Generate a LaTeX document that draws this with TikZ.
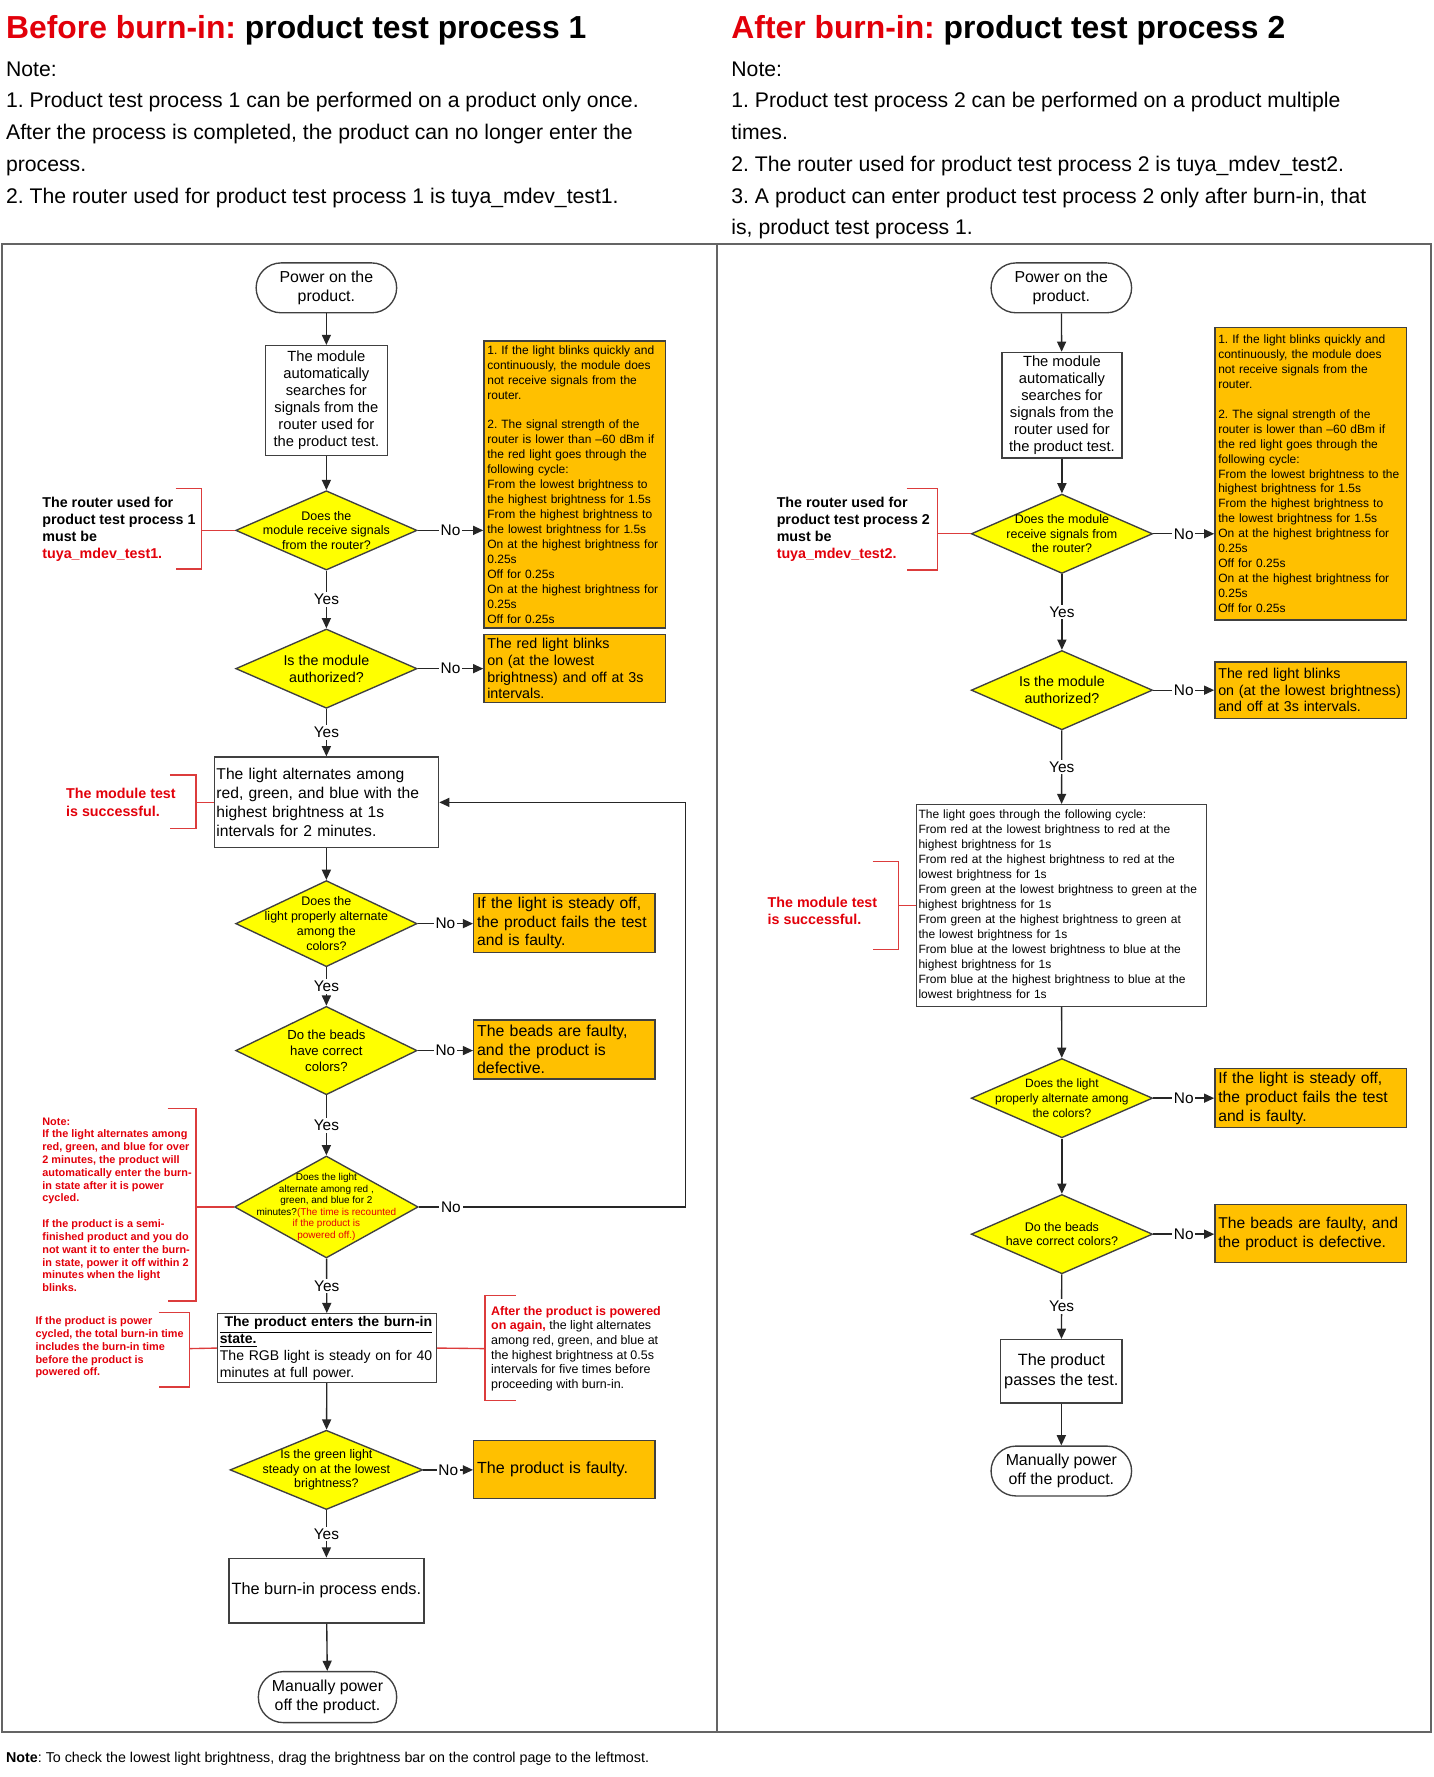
\documentclass[tikz,border=0pt]{standalone}
\usepackage{fontspec}
\setmainfont{Liberation Sans}
\usepackage{xcolor}
\usetikzlibrary{shapes.geometric,arrows.meta}
\definecolor{tyorange}{RGB}{255,192,0}
\definecolor{tyyellow}{RGB}{255,255,0}
\definecolor{tyred}{RGB}{226,0,10}
\definecolor{brkred}{RGB}{220,60,60}
\definecolor{frmgray}{RGB}{100,100,100}
\newcommand{\tysize}[2]{\fontsize{#1}{#2}\selectfont}
\frenchspacing

\begin{document}
\begin{tikzpicture}[x=0.5pt,y=0.5pt,yscale=-1,
  term/.style={draw=black!75, line width=0.6pt, rounded corners=11pt, minimum width=62pt, minimum height=22pt, align=center, inner sep=1pt, font=\tysize{7}{8.5}},
  proc/.style={draw=black!75, line width=0.6pt, fill=white, align=center, inner sep=1pt, font=\tysize{6.5}{7.5}},
  dec/.style={diamond, draw=black!75, line width=0.6pt, fill=tyyellow, inner sep=0pt, minimum width=80pt, minimum height=35pt},
  dectxt/.style={align=center, inner sep=0pt, font=\tysize{5.5}{6.5}},
  warn/.style={draw=black!75, line width=0.6pt, fill=tyorange, align=left, inner sep=1.5pt, font=\tysize{5.3}{6.6}},
  lbl/.style={fill=white, inner sep=0.8pt, font=\tysize{6.8}{8}},
  arr/.style={draw=black!85, line width=0.6pt, -{Triangle[length=4.5pt,width=4pt]}},
  brk/.style={draw=brkred, line width=0.6pt},
  note/.style={align=left, inner sep=0pt, anchor=north west},
  redtxt/.style={anchor=west, align=left, inner sep=0pt, text=tyred, font=\bfseries\tysize{4.8}{5.65}}
]
\useasboundingbox (0,0) rectangle (1265,1568);

\draw (5,34) node (ttl1) [anchor=base west, inner sep=0pt, font=\bfseries\tysize{14.05}{16}] {\textcolor{tyred}{Before burn-in:} product test process 1};
\draw (645,34) node (ttl2) [anchor=base west, inner sep=0pt, font=\bfseries\tysize{14.05}{16}] {\textcolor{tyred}{After burn-in:} product test process 2};
\draw (5,54) node (hnote1) [note, font=\tysize{9.35}{14}] {Note:\\1. Product test process 1 can be performed on a product only once.\\After the process is completed, the product can no longer enter the\\process.\\2. The router used for product test process 1 is tuya\_mdev\_test1.};
\draw (645,54) node (hnote2) [note, font=\tysize{9.35}{14}] {Note:\\1. Product test process 2 can be performed on a product multiple\\times.\\2. The router used for product test process 2 is tuya\_mdev\_test2.\\3. A product can enter product test process 2 only after burn-in, that\\is, product test process 1.};

\draw [frmgray, line width=0.8pt] (2,215) rectangle (1263,1528);
\draw [frmgray, line width=0.8pt] (633,215) -- (633,1528);

\draw (288,254) node (pon1) [term] {Power on the\\product.};
\draw (288,353.5) node (srch1) [proc, minimum width=54pt, minimum height=48.5pt] {The module\\automatically\\searches for\\signals from the\\router used for\\the product test.};
\draw (288,468) node (dRecv1) [dec] {};
\draw (dRecv1) node (tRecv1) [dectxt] {Does the\\module receive signals\\from the router?};
\draw (507,427.5) node (nSig1) [warn, text width=77pt, minimum height=126.5pt] {1. If the light blinks quickly and\\continuously, the module does\\not receive signals from the\\router.\\[6.6pt]2. The signal strength of the\\router is lower than –60 dBm if\\the red light goes through the\\following cycle:\\From the lowest brightness to\\the highest brightness for 1.5s\\From the highest brightness to\\the lowest brightness for 1.5s\\On at the highest brightness for\\0.25s\\Off for 0.25s\\On at the highest brightness for\\0.25s\\Off for 0.25s};
\draw (288,590) node (dAuth1) [dec] {};
\draw (dAuth1) node (tAuth1) [dectxt, font=\tysize{6.3}{7.5}] {Is the module\\authorized?};
\draw (507,590) node (nAuth1) [warn, text width=77pt, minimum height=30pt, font=\tysize{6.3}{7.3}] {The red light blinks\\on (at the lowest\\brightness) and off at 3s\\intervals.};
\draw (288,708) node (rgb1) [proc, align=left, text width=97pt, minimum height=40pt, font=\tysize{6.9}{8.5}] {The light alternates among\\red, green, and blue with the\\highest brightness at 1s\\intervals for 2 minutes.};
\draw (288,815) node (dAlt1) [dec, minimum height=38pt] {};
\draw (dAlt1) node (tAlt1) [dectxt] {Does the\\light properly alternate\\among the\\colors?};
\draw (498,814.5) node (nAlt1) [warn, text width=77pt, minimum height=25.5pt, font=\tysize{6.9}{8.3}] {If the light is steady off,\\the product fails the test\\and is faulty.};
\draw (288,927) node (dBead1) [dec, minimum height=39pt] {};
\draw (dBead1) node (tBead1) [dectxt, font=\tysize{5.8}{7}] {Do the beads\\have correct\\colors?};
\draw (498,926) node (nBead1) [warn, text width=77pt, minimum height=26pt, font=\tysize{7}{8.3}] {The beads are faulty,\\and the product is\\defective.};
\draw (288,1065) node (dTime1) [dec, minimum width=81pt, minimum height=45pt] {};
\draw (dTime1) node (tTime1) [dectxt, font=\tysize{4.4}{5.1}] {Does the light\\alternate among red ,\\green, and blue for 2\\minutes?\textcolor{tyred}{(The time is recounted}\\\textcolor{tyred}{if the product is}\\\textcolor{tyred}{powered off.)}};
\draw (288.5,1189.5) node (burn) [proc, align=left, text width=94.5pt, minimum height=29.5pt, font=\tysize{6.2}{7.5}] {\textbf{\underline{\ The product enters the burn-in}}\\\textbf{\underline{state.}}\\The RGB light is steady on for 40\\minutes at full power.};
\draw (288,1297) node (dGreen1) [dec, minimum width=85pt] {};
\draw (dGreen1) node (tGreen1) [dectxt] {Is the green light\\steady on at the lowest\\brightness?};
\draw (498,1296.5) node (nGreen1) [warn, text width=77pt, minimum height=25.5pt, font=\tysize{7.1}{8.3}] {The product is faulty.};
\draw (288,1403.5) node (end1) [proc, minimum width=86pt, minimum height=28.5pt, font=\tysize{7.2}{8.5}] {The burn-in process ends.};
\draw (289,1497.5) node (poff1) [term, minimum width=61pt, minimum height=22.5pt] {Manually power\\off the product.};

\draw [arr] (pon1) -- (srch1);
\draw [arr] (srch1) -- (dRecv1);
\draw [arr] (dRecv1) -- node [lbl] {Yes} (dAuth1);
\draw [arr] (dAuth1) -- node [lbl] {Yes} (rgb1);
\draw [arr] (rgb1) -- (dAlt1);
\draw [arr] (dAlt1) -- node [lbl] {Yes} (dBead1);
\draw [arr] (dBead1) -- node [lbl] {Yes} (dTime1);
\draw [arr] (dTime1) -- node [lbl] {Yes} (burn);
\draw [arr] (burn) -- (dGreen1);
\draw [arr] (dGreen1) -- node [lbl] {Yes} (end1);
\draw [arr] (end1) -- (poff1);
\draw [arr] (dRecv1.east) -- node [lbl] {No} (dRecv1.east -| nSig1.west);
\draw [arr] (dAuth1.east) -- node [lbl] {No} (dAuth1.east -| nAuth1.west);
\draw [arr] (dAlt1.east) -- node [lbl] {No} (dAlt1.east -| nAlt1.west);
\draw [arr] (dBead1.east) -- node [lbl] {No} (dBead1.east -| nBead1.west);
\draw [arr] (dGreen1.east) -- node [lbl] {No} (dGreen1.east -| nGreen1.west);
\coordinate (loopR) at (605,1065);
\draw [arr] (dTime1.east) -- node [lbl, pos=0.12] {No} (loopR) |- (rgb1.east);

\draw (37,467) node (ann1) [anchor=west, align=left, inner sep=0pt, font=\bfseries\tysize{6.3}{7.6}] {The router used for\\product test process 1\\must be\\\textcolor{tyred}{tuya\_mdev\_test1.}};
\draw [brk] (155,431) -- (178,431) -- (178,502) -- (155,502);
\coordinate (b1) at (178,468);
\draw [brk] (b1) -- (dRecv1.west);
\draw (58,708) node (ann2) [redtxt, font=\bfseries\tysize{6.3}{7.6}] {The module test\\is successful.};
\draw [brk] (150,684) -- (173,684) -- (173,731) -- (150,731);
\coordinate (b2) at (173,708);
\draw [brk] (b2) -- (rgb1.west);
\draw (37,1063) node (ann3) [redtxt] {Note:\\If the light alternates among\\red, green, and blue for over\\2 minutes, the product will\\automatically enter the burn-\\in state after it is power\\cycled.\\[5.65pt]If the product is a semi-\\finished product and you do\\not want it to enter the burn-\\in state, power it off within 2\\minutes when the light\\blinks.};
\draw [brk] (148,978) -- (173,978) -- (173,1148) -- (148,1148);
\coordinate (b3) at (173,1065);
\draw [brk] (b3) -- (dTime1.west);
\draw (31,1189) node (ann4) [redtxt] {If the product is power\\cycled, the total burn-in time\\includes the burn-in time\\before the product is\\powered off.};
\draw [brk] (140,1158) -- (167,1158) -- (167,1224) -- (140,1224);
\coordinate (b4) at (167,1190);
\draw [brk] (b4) -- (burn.west);
\draw (433,1190) node (ann5) [anchor=west, align=left, inner sep=0pt, font=\tysize{5.5}{6.5}] {\textcolor{tyred}{\textbf{After the product is powered}}\\\textcolor{tyred}{\textbf{on again,}} the light alternates\\among red, green, and blue at\\the highest brightness at 0.5s\\intervals for five times before\\proceeding with burn-in.};
\draw [brk] (455,1143) -- (428,1143) -- (428,1236) -- (455,1236);
\coordinate (b5) at (428,1190);
\draw [brk] (burn.east) -- (b5);

\draw (936.5,254) node (pon2) [term] {Power on the\\product.};
\draw (937,357.5) node (srch2) [proc, minimum width=53pt, minimum height=46.5pt] {The module\\automatically\\searches for\\signals from the\\router used for\\the product test.};
\draw (937,471) node (dRecv2) [dec] {};
\draw (dRecv2) node (tRecv2) [dectxt] {Does the module\\receive signals from\\the router?};
\draw (1156.5,418) node (nSig2) [warn, text width=81.5pt, minimum height=129pt] {1. If the light blinks quickly and\\continuously, the module does\\not receive signals from the\\router.\\[6.6pt]2. The signal strength of the\\router is lower than –60 dBm if\\the red light goes through the\\following cycle:\\From the lowest brightness to the\\highest brightness for 1.5s\\From the highest brightness to\\the lowest brightness for 1.5s\\On at the highest brightness for\\0.25s\\Off for 0.25s\\On at the highest brightness for\\0.25s\\Off for 0.25s};
\draw (937,609) node (dAuth2) [dec] {};
\draw (dAuth2) node (tAuth2) [dectxt, font=\tysize{6.3}{7.5}] {Is the module\\authorized?};
\draw (1156.5,609) node (nAuth2) [warn, text width=81.5pt, minimum height=25pt, font=\tysize{6.3}{7.3}] {The red light blinks\\on (at the lowest brightness)\\and off at 3s intervals.};
\draw (936.5,799) node (cyc2) [proc, align=left, text width=126pt, minimum height=89pt, font=\tysize{5.3}{6.6}] {The light goes through the following cycle:\\From red at the lowest brightness to red at the\\highest brightness for 1s\\From red at the highest brightness to red at the\\lowest brightness for 1s\\From green at the lowest brightness to green at the\\highest brightness for 1s\\From green at the highest brightness to green at\\the lowest brightness for 1s\\From blue at the lowest brightness to blue at the\\highest brightness for 1s\\From blue at the highest brightness to blue at the\\lowest brightness for 1s};
\draw (937,969) node (dAlt2) [dec] {};
\draw (dAlt2) node (tAlt2) [dectxt, font=\tysize{5.3}{6.5}] {Does the light\\properly alternate among\\the colors?};
\draw (1156.5,969) node (nAlt2) [warn, text width=81.5pt, minimum height=26pt, font=\tysize{6.9}{8.3}] {If the light is steady off,\\the product fails the test\\and is faulty.};
\draw (937,1089) node (dBead2) [dec] {};
\draw (dBead2) node (tBead2) [dectxt] {Do the beads\\have correct colors?};
\draw (1156.5,1088.5) node (nBead2) [warn, text width=81.5pt, minimum height=25.5pt, font=\tysize{6.9}{8.3}] {The beads are faulty, and\\the product is defective.};
\draw (936.5,1210) node (pass2) [proc, minimum width=53.5pt, minimum height=28pt, font=\tysize{7.2}{8.5}] {The product\\passes the test.};
\draw (936.5,1298) node (poff2) [term] {Manually power\\off the product.};

\draw [arr] (pon2) -- (srch2);
\draw [arr] (srch2) -- (dRecv2);
\draw [arr] (dRecv2) -- node [lbl] {Yes} (dAuth2);
\draw [arr] (dAuth2) -- node [lbl] {Yes} (cyc2);
\draw [arr] (cyc2) -- (dAlt2);
\draw [arr] (dAlt2) -- (dBead2);
\draw [arr] (dBead2) -- node [lbl] {Yes} (pass2);
\draw [arr] (pass2) -- (poff2);
\draw [arr] (dRecv2.east) -- node [lbl] {No} (dRecv2.east -| nSig2.west);
\draw [arr] (dAuth2.east) -- node [lbl] {No} (dAuth2.east -| nAuth2.west);
\draw [arr] (dAlt2.east) -- node [lbl] {No} (dAlt2.east -| nAlt2.west);
\draw [arr] (dBead2.east) -- node [lbl] {No} (dBead2.east -| nBead2.west);

\draw (685,467) node (ann6) [anchor=west, align=left, inner sep=0pt, font=\bfseries\tysize{6.3}{7.6}] {The router used for\\product test process 2\\must be\\\textcolor{tyred}{tuya\_mdev\_test2.}};
\draw [brk] (800,431) -- (827,431) -- (827,503) -- (800,503);
\coordinate (b6) at (827,471);
\draw [brk] (b6) -- (dRecv2.west);
\draw (677,804) node (ann7) [redtxt, font=\bfseries\tysize{6.3}{7.6}] {The module test\\is successful.};
\draw [brk] (770,760) -- (793,760) -- (793,838) -- (770,838);
\coordinate (b7) at (793,799);
\draw [brk] (b7) -- (cyc2.west);

\draw (5,1552) node (fnote) [anchor=west, inner sep=0pt, font=\tysize{6.3}{7.5}] {\textbf{Note}: To check the lowest light brightness, drag the brightness bar on the control page to the leftmost.};
\end{tikzpicture}
\end{document}
